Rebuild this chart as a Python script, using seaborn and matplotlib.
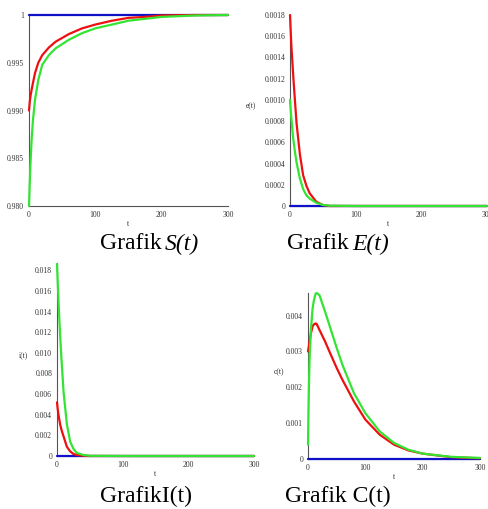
import matplotlib
matplotlib.use("Agg")
import matplotlib.pyplot as plt
import seaborn as sns

# ---- data ----
# S(t)
t_s = [0, 1, 2, 4, 6, 9, 14, 20, 30, 40, 60, 80, 100, 125, 150, 175, 200, 250, 300]
s_blue = [1.0] * len(t_s)
s_red = [0.9900, 0.9908, 0.9914, 0.9922, 0.9929, 0.9939, 0.9950, 0.9958, 0.9966, 0.9972,
         0.9980, 0.9986, 0.9990, 0.9994, 0.9997, 0.9998, 0.99995, 1.0, 1.0]
s_green = [0.9800, 0.9822, 0.9841, 0.9870, 0.9890, 0.9911, 0.9932, 0.9948, 0.9958, 0.9965,
           0.9974, 0.9981, 0.9986, 0.9990, 0.9994, 0.9996, 0.9998, 0.99995, 1.0]

# E(t)
t_e = [0, 2, 5, 8, 10, 15, 20, 25, 30, 40, 50, 60, 100, 200, 300]
e_blue = [0.0] * len(t_e)
e_red = [0.0018, 0.00152, 0.00122, 0.00095, 0.00078, 0.00049, 0.00029, 0.00019, 0.00012,
         0.00004, 0.00001, 0.0, 0.0, 0.0, 0.0]
e_green = [0.0010, 0.00083, 0.00063, 0.00049, 0.00041, 0.00026, 0.00016, 0.00010, 0.00007,
           0.00003, 0.00001, 0.000003, 0.0, 0.0, 0.0]

# I(t)
t_i = [0, 1, 2, 3, 5, 7, 10, 15, 20, 25, 30, 40, 50, 100, 200, 300]
i_blue = [0.0] * len(t_i)
i_red = [0.0052, 0.0046, 0.0041, 0.0037, 0.0030, 0.0025, 0.0019, 0.0009, 0.00045, 0.0002,
         0.0001, 0.00002, 0.0, 0.0, 0.0, 0.0]
i_green = [0.0186, 0.0170, 0.0155, 0.0140, 0.0114, 0.0092, 0.0062, 0.0031, 0.0014, 0.0007,
           0.0003, 0.0001, 0.00002, 0.0, 0.0, 0.0]

# C(t)
t_c = [0, 1, 2, 3, 5, 8, 10, 13, 15, 20, 30, 40, 50, 60, 80, 100, 125, 150, 175, 200, 250, 300]
c_blue = [0.0] * len(t_c)
c_red = [0.0030, 0.0031, 0.0032, 0.0033, 0.0035, 0.0037, 0.00375, 0.00378, 0.00377, 0.0036,
         0.00327, 0.0029, 0.00254, 0.00221, 0.00161, 0.0011, 0.00068, 0.0004, 0.00024,
         0.00015, 0.00005, 0.00002]
c_green = [0.0004, 0.0015, 0.0023, 0.0029, 0.0036, 0.0042, 0.0044, 0.0046, 0.00463, 0.00457,
           0.0041, 0.0036, 0.0031, 0.00263, 0.00184, 0.00128, 0.00077, 0.00045, 0.00026,
           0.00015, 0.00006, 0.00003]

x_ticks = [0, 100, 200, 300]
x_labels = ["0", "100", "200", "300"]
s_ticks = [0.980, 0.985, 0.990, 0.995, 1.0]
s_labels = ["0.980", "0.985", "0.990", "0.995", "1"]
e_ticks = [0, 0.0002, 0.0004, 0.0006, 0.0008, 0.0010, 0.0012, 0.0014, 0.0016, 0.0018]
e_labels = ["0", "0.0002", "0.0004", "0.0006", "0.0008", "0.0010", "0.0012", "0.0014", "0.0016", "0.0018"]
i_ticks = [0, 0.002, 0.004, 0.006, 0.008, 0.010, 0.012, 0.014, 0.016, 0.018]
i_labels = ["0", "0.002", "0.004", "0.006", "0.008", "0.010", "0.012", "0.014", "0.016", "0.018"]
c_ticks = [0, 0.001, 0.002, 0.003, 0.004]
c_labels = ["0", "0.001", "0.002", "0.003", "0.004"]

sns.set_style("white")
plt.rcParams['font.family'] = ['Liberation Serif', 'DejaVu Serif']

W, H = 489, 509
fig = plt.figure(figsize=(W / 100, H / 100), dpi=100)

BLUE, RED, GREEN = "#1010c8", "#ee1010", "#33e433"


def make_axes(left, right, top, bottom):
    return fig.add_axes([left / W, 1 - bottom / H, (right - left) / W, (bottom - top) / H])


def draw_panel(ax, t, blue, red, green, ylim, yt, yl, ylabel, minor_step):
    # curves sit above the axis lines, like the Maple output
    sns.lineplot(x=t, y=blue, ax=ax, color=BLUE, lw=1.6, clip_on=False, zorder=3)
    sns.lineplot(x=t, y=red, ax=ax, color=RED, lw=1.6, clip_on=False, zorder=4)
    sns.lineplot(x=t, y=green, ax=ax, color=GREEN, lw=1.6, clip_on=False, zorder=5)
    ax.set_xlim(0, 300)
    ax.set_ylim(*ylim)
    ax.set_xticks(x_ticks)
    ax.set_xticklabels(x_labels)
    ax.set_xticks([50, 150, 250], minor=True)
    ax.set_yticks(yt)
    ax.set_yticklabels(yl)
    mn = []
    v = ylim[0]
    while v < ylim[1]:
        mn.append(v)
        v += minor_step
    ax.set_yticks(mn, minor=True)
    for sp in ["top", "right"]:
        ax.spines[sp].set_visible(False)
    for sp in ["left", "bottom"]:
        ax.spines[sp].set_color("#555555")
        ax.spines[sp].set_linewidth(0.8)
    ax.tick_params(which="major", direction="inout", length=4, width=0.6, color="#555555",
                   labelsize=5.5, labelcolor="#333333", pad=1.5)
    ax.tick_params(which="minor", direction="inout", length=2.5, width=0.5, color="#555555")
    ax.set_xlabel("t", fontsize=5.5, color="#333333", labelpad=1)
    if ylabel:
        ax.set_ylabel(ylabel, fontsize=5.5, color="#333333", rotation=0)
    else:
        ax.set_ylabel("")


ax1 = make_axes(29, 228, 15, 206)
draw_panel(ax1, t_s, s_blue, s_red, s_green, (0.980, 1.0), s_ticks, s_labels, None, 0.001)

ax2 = make_axes(290, 487, 15, 206)
draw_panel(ax2, t_e, e_blue, e_red, e_green, (0, 0.0018), e_ticks, e_labels, "e(t)", 0.0001)
ax2.yaxis.set_label_coords(-0.2, 0.5)

ax3 = make_axes(57, 254, 263, 456)
draw_panel(ax3, t_i, i_blue, i_red, i_green, (0, 0.0187), i_ticks, i_labels, "i(t)", 0.001)
ax3.yaxis.set_label_coords(-0.17, 0.5)

ax4 = make_axes(308, 480, 293, 459)
draw_panel(ax4, t_c, c_blue, c_red, c_green, (0, 0.00463), c_ticks, c_labels, "c(t)", 0.0002)
ax4.yaxis.set_label_coords(-0.17, 0.5)

# captions
cap = dict(fontsize=17, color="black", va="center", ha="left", family=['Liberation Serif'])
fig.text(100 / W, 1 - 244 / H, "Grafik", **cap)
fig.text(165 / W, 1 - 244 / H, "S(t)", style="italic", **cap)
fig.text(287 / W, 1 - 244 / H, "Grafik", **cap)
fig.text(352 / W, 1 - 244 / H, "E(t)", style="italic", **cap)
fig.text(100 / W, 1 - 496 / H, "GrafikI(t)", **cap)
fig.text(285 / W, 1 - 496 / H, "Grafik C(t)", **cap)

fig.savefig("out.png", dpi=100)
